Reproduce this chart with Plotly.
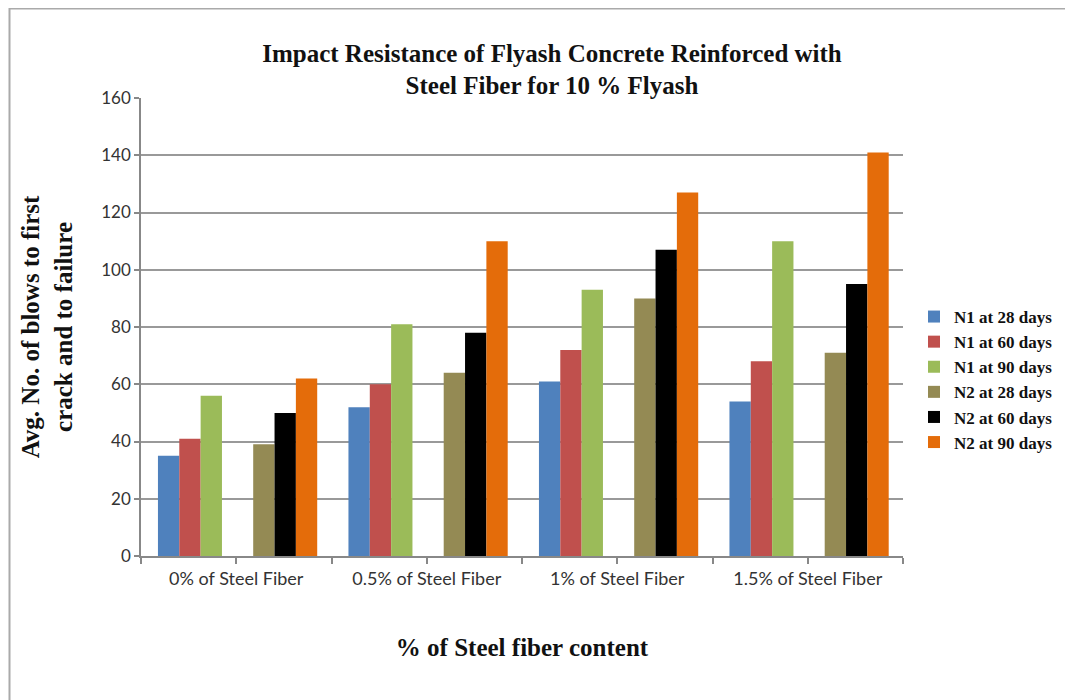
import plotly.graph_objects as go

categories = ["0% of Steel Fiber", "0.5% of Steel Fiber", "1% of Steel Fiber", "1.5% of Steel Fiber"]
series_names = ["N1 at 28 days", "N1 at 60 days", "N1 at 90 days",
                "N2 at 28 days", "N2 at 60 days", "N2 at 90 days"]
n1_28 = [35, 52, 61, 54]
n1_60 = [41, 60, 72, 68]
n1_90 = [56, 81, 93, 110]
n2_28 = [39, 64, 90, 71]
n2_60 = [50, 78, 107, 95]
n2_90 = [62, 110, 127, 141]
series_values = [n1_28, n1_60, n1_90, n2_28, n2_60, n2_90]
colors = ["#4F81BD", "#C0504D", "#9BBB59", "#948A54", "#000000", "#E46C0A"]
y_ticks = [0, 20, 40, 60, 80, 100, 120, 140, 160]

W, H = 1073, 700
OFF = 8  # page body margin
L, T = 141 - OFF, 98 - OFF
PW, PH = 903 - 141, 556 - 98
R = W - L - PW
B = H - T - PH

fig = go.Figure()
bar_w = 0.224
for i, (name, vals, col) in enumerate(zip(series_names, series_values, colors)):
    half = 0 if i < 3 else 1
    k = i % 3
    xs = [g * 2 + half + 0.5 for g in range(len(categories))]
    fig.add_trace(go.Bar(
        x=xs, y=vals, name=name, marker=dict(color=col, line=dict(width=0)),
        width=bar_w, offset=-0.322 + k * bar_w,
    ))

def px_x(p):
    return (p - OFF - L) / PW

def px_y(p):
    return (T + PH - (p - OFF)) / PH

serif_bold = dict(family="Liberation Serif", color="#111111", weight="bold")

fig.update_layout(
    width=W, height=H,
    margin=dict(l=L, r=R, t=T, b=B, autoexpand=False),
    paper_bgcolor="white", plot_bgcolor="white",
    barmode="overlay",
    title=dict(
        text="Impact Resistance of Flyash Concrete Reinforced with<br>Steel Fiber for 10 % Flyash",
        x=(552 - OFF) / W, xanchor="center", y=1 - (61.5 - OFF) / H, yanchor="middle",
        font=dict(size=25, **serif_bold),
    ),
    xaxis=dict(
        range=[0, 8], tickvals=[1, 3, 5, 7], ticktext=categories,
        ticks="outside", ticklen=6, tickcolor="#888888", tickwidth=1.5,
        minor=dict(dtick=1, tick0=0, ticks="outside", ticklen=6, tickcolor="#888888", tickwidth=1.5),
        showgrid=False, showline=True, linecolor="#888888", linewidth=1.5,
        tickfont=dict(family="Lato", size=18, color="#333333"),
        title=dict(text="% of Steel fiber content", standoff=50,
                   font=dict(size=25, **serif_bold)),
        fixedrange=True,
    ),
    yaxis=dict(
        range=[0, 160], tickvals=y_ticks,
        ticks="outside", ticklen=5, tickcolor="#888888", tickwidth=1.5,
        showgrid=True, gridcolor="#999999", gridwidth=1.5,
        showline=True, linecolor="#888888", linewidth=1.5, zeroline=False,
        tickfont=dict(family="Lato", size=17, color="#333333"),
        title=dict(text="Avg. No. of blows to first<br>crack and to failure", standoff=22,
                   font=dict(size=25, **serif_bold)),
        fixedrange=True,
    ),
    legend=dict(
        x=px_x(914), xanchor="left", y=px_y(299), yanchor="top",
        font=dict(size=17, **serif_bold),
        tracegroupgap=0, itemwidth=30, bgcolor="rgba(0,0,0,0)",
    ),
    showlegend=True,
    shapes=[dict(type="rect", xref="paper", yref="paper",
                 x0=px_x(9.5), x1=px_x(1100), y0=px_y(730), y1=px_y(8.5),
                 line=dict(color="#AAAAAA", width=2), fillcolor="rgba(0,0,0,0)", layer="below")],
)

fig.write_html("out.html")
